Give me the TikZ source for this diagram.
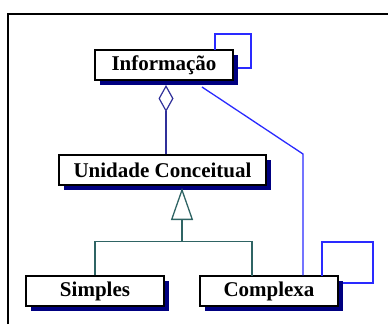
\documentclass[tikz,border=0pt]{standalone}
\usepackage{fontspec}
\setmainfont{Liberation Serif}
\usetikzlibrary{arrows.meta,shadows}
\definecolor{shadownavy}{HTML}{000080}
\definecolor{assocblue}{HTML}{2A2AFF}
\definecolor{aggblue}{HTML}{30309A}
\definecolor{inhteal}{HTML}{2F6464}
\begin{document}
\begin{tikzpicture}[x=1pt,y=-1pt,
  cls/.style={draw=black, line width=1.5pt, fill=white, minimum height=30pt,
    inner sep=0pt, font=\fontsize{21}{24}\selectfont\bfseries,
    drop shadow={shadow xshift=5pt, shadow yshift=-5pt, fill=shadownavy, opacity=1}},
  assoc/.style={draw=assocblue, line width=1.3pt},
  agg/.style={draw=aggblue, line width=1.3pt},
  inh/.style={draw=inhteal, line width=1.5pt},
  frameline/.style={draw=black, line width=1.5pt}]
\useasboundingbox (0,0) rectangle (388,324);
\draw[frameline] (8,324) -- (8,14) -- (388,14);
\node[cls, minimum width=138pt] (info) at (164,65) {Informação};
\node[cls, minimum width=207pt] (unid) at (162.5,170) {Unidade Conceitual};
\node[cls, minimum width=138pt] (simp) at (95,291) {Simples};
\node[cls, minimum width=138pt] (comp) at (269,291) {Complexa};
% aggregation
\coordinate (aggtop) at (166,85);
\draw[agg, {Diamond[open, length=27pt, width=15pt, line width=1.2pt]}-] (aggtop) -- (aggtop |- unid.north);
% inheritance
\coordinate (inhapex) at (182,188);
\coordinate (inhbar) at (182,241.5);
\coordinate (simptop) at (simp.north);
\coordinate (comptopl) at (252,276);
\draw[inh, -{Triangle[open, length=32pt, width=22pt, line width=1.3pt]}] (inhbar) -- (inhapex);
\draw[inh] (simptop) |- (inhbar) -| (comptopl);
% association Informação -- Complexa
\coordinate (assocstart) at (202,87);
\coordinate (assocbend) at (303,154);
\draw[assoc] (assocstart) -- (assocbend) -- (assocbend |- comp.north);
% self loops
\coordinate (infoloopa) at (215,50);
\coordinate (infoloopb) at (238,68);
\draw[assoc] (infoloopa) -- (215,34) -- (251,34) -- (251,68) -- (infoloopb);
\coordinate (comploopa) at (322,276);
\coordinate (comploopb) at (343,283);
\draw[assoc] (comploopa) -- (322,242) -- (373,242) -- (373,283) -- (comploopb);
\end{tikzpicture}
\end{document}
